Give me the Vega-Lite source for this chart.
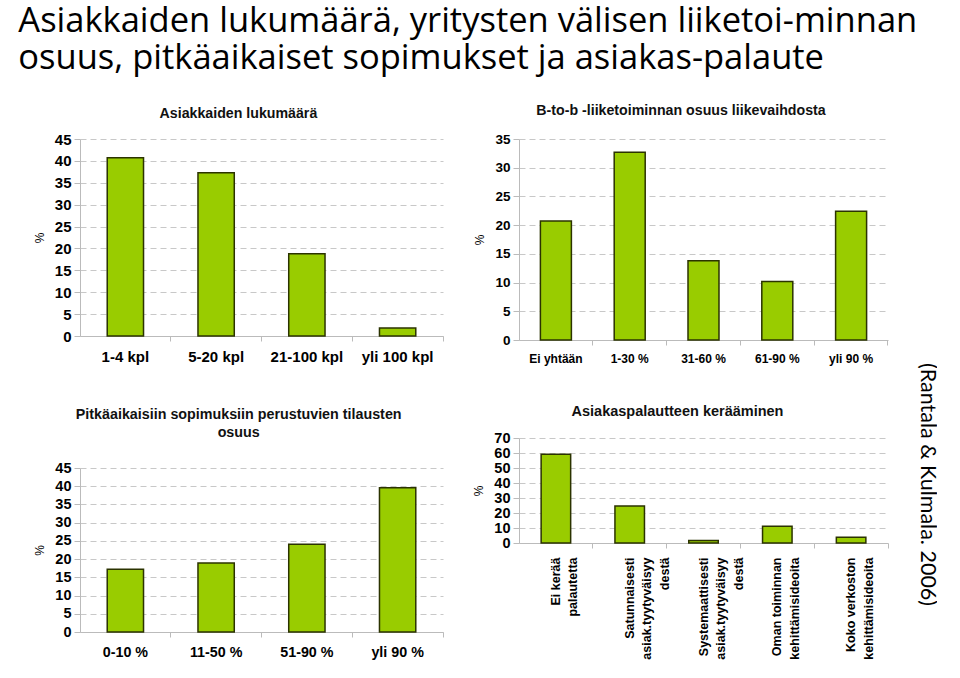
{
  "$schema": "https://vega.github.io/schema/vega-lite/v6.json",
  "padding": {"left": 18, "top": 4, "right": 0, "bottom": 0},
  "background": "white",
  "title": {
    "text": ["Asiakkaiden lukumäärä, yritysten välisen liiketoi-minnan", "osuus, pitkäaikaiset sopimukset ja asiakas-palaute"],
    "anchor": "start",
    "font": "Open Sans",
    "fontSize": 34.5,
    "fontWeight": "normal",
    "color": "#000000",
    "lineHeight": 37,
    "offset": 27,
    "dx": -15
  },
  "config": {
    "view": {"stroke": null},
    "title": {"font": "Liberation Sans", "fontWeight": "bold", "fontSize": 14.2, "color": "#111111", "anchor": "middle", "frame": "bounds"},
    "axis": {
      "labelFont": "Liberation Sans",
      "labelFontWeight": "bold",
      "labelColor": "#000000",
      "titleFont": "Liberation Sans",
      "titleFontWeight": "normal",
      "titleFontSize": 12,
      "titleColor": "#000000",
      "domainColor": "#bbbbbb",
      "tickColor": "#bbbbbb",
      "gridColor": "#c8c8c8",
      "gridDash": [6, 4]
    },
    "axisX": {"grid": false, "ticks": true, "tickSize": 5, "labelPadding": 8, "title": null},
    "axisY": {"grid": true, "tickSize": 6, "labelPadding": 3, "titlePadding": 8}
  },
  "hconcat": [
    {
      "spacing": 43,
      "vconcat": [
        {
          "width": 363,
          "height": 197,
          "title": {"text": "Asiakkaiden lukumäärä", "offset": 11},
          "data": {"values": [
            {"luokka": "1-4 kpl", "osuus": 40.7},
            {"luokka": "5-20 kpl", "osuus": 37.3},
            {"luokka": "21-100 kpl", "osuus": 18.8},
            {"luokka": "yli 100 kpl", "osuus": 1.8}
          ]},
          "mark": {"type": "bar", "color": "#99CC00", "stroke": "#2b3300", "strokeWidth": 1.5},
          "encoding": {
            "x": {"field": "luokka", "type": "nominal", "sort": null, "scale": {"paddingInner": 0.6, "paddingOuter": 0.3}, "axis": {"labelAngle": 0, "labelFontSize": 15, "bandPosition": 1.75}},
            "y": {"field": "osuus", "type": "quantitative", "scale": {"domain": [0, 45]}, "axis": {"title": "%", "values": [0, 5, 10, 15, 20, 25, 30, 35, 40, 45], "labelFontSize": 15}}
          }
        },
        {
          "width": 363,
          "height": 164,
          "title": {"text": ["Pitkäaikaisiin sopimuksiin perustuvien tilausten", "osuus"], "fontSize": 14.3, "lineHeight": 18, "offset": 20},
          "data": {"values": [
            {"luokka": "0-10 %", "osuus": 17.2},
            {"luokka": "11-50 %", "osuus": 18.9},
            {"luokka": "51-90 %", "osuus": 24.1},
            {"luokka": "yli 90 %", "osuus": 39.6}
          ]},
          "mark": {"type": "bar", "color": "#99CC00", "stroke": "#2b3300", "strokeWidth": 1.5},
          "encoding": {
            "x": {"field": "luokka", "type": "nominal", "sort": null, "scale": {"paddingInner": 0.6, "paddingOuter": 0.3}, "axis": {"labelAngle": 0, "labelFontSize": 14.3, "bandPosition": 1.75}},
            "y": {"field": "osuus", "type": "quantitative", "scale": {"domain": [0, 45]}, "axis": {"title": "%", "values": [0, 5, 10, 15, 20, 25, 30, 35, 40, 45], "labelFontSize": 14.5}}
          }
        }
      ]
    },
    {
      "spacing": -2,
      "vconcat": [
        {
          "width": 369,
          "height": 201,
          "title": {"text": "B-to-b -liiketoiminnan osuus liikevaihdosta", "offset": 14},
          "data": {"values": [
            {"luokka": "Ei yhtään", "osuus": 20.7},
            {"luokka": "1-30 %", "osuus": 32.7},
            {"luokka": "31-60 %", "osuus": 13.8},
            {"luokka": "61-90 %", "osuus": 10.2},
            {"luokka": "yli 90 %", "osuus": 22.4}
          ]},
          "mark": {"type": "bar", "color": "#99CC00", "stroke": "#2b3300", "strokeWidth": 1.5},
          "encoding": {
            "x": {"field": "luokka", "type": "nominal", "sort": null, "scale": {"paddingInner": 0.58, "paddingOuter": 0.29}, "axis": {"labelAngle": 0, "labelFontSize": 12, "bandPosition": 1.69}},
            "y": {"field": "osuus", "type": "quantitative", "scale": {"domain": [0, 35]}, "axis": {"title": "%", "values": [0, 5, 10, 15, 20, 25, 30, 35], "labelFontSize": 13.5}}
          }
        },
        {
          "width": 369,
          "height": 105,
          "data": {"values": [
            {"luokka": "Ei kerää\npalautetta", "osuus": 59.1},
            {"luokka": "Satunnaisesti\nasiak.tyytyväisyy\ndestä", "osuus": 24.7},
            {"luokka": "Systemaattisesti\nasiak.tyytyväisyy\ndestä", "osuus": 1.6},
            {"luokka": "Oman toiminnan\nkehittämisideoita", "osuus": 11.1},
            {"luokka": "Koko verkoston\nkehittämisideoita", "osuus": 3.8}
          ]},
          "layer": [
            {
              "mark": {"type": "bar", "color": "#99CC00", "stroke": "#2b3300", "strokeWidth": 1.5},
              "encoding": {
                "x": {"field": "luokka", "type": "nominal", "sort": null, "scale": {"paddingInner": 0.6, "paddingOuter": 0.3}, "axis": {"labelAngle": -90, "labelFontSize": 12.5, "labelLineHeight": 17.5, "labelLimit": 300, "labelPadding": 9, "labelExpr": "split(datum.label, '\\n')", "bandPosition": 1.75}},
                "y": {"field": "osuus", "type": "quantitative", "scale": {"domain": [0, 70]}, "axis": {"title": "%", "values": [0, 10, 20, 30, 40, 50, 60, 70], "labelFontSize": 14.5}}
              }
            },
            {
              "mark": {"type": "tick", "opacity": 0},
              "encoding": {
                "x": {"field": "luokka", "type": "nominal", "sort": null, "axis": {"orient": "top", "title": "Asiakaspalautteen kerääminen", "labels": false, "ticks": false, "domain": false, "grid": false, "titleFont": "Liberation Sans", "titleFontWeight": "bold", "titleFontSize": 14.5, "titleColor": "#111111", "titlePadding": 20, "titleX": 158}},
                "y": {"field": "osuus", "type": "quantitative", "axis": {"orient": "right", "title": "(Rantala & Kulmala. 2006)", "labels": false, "ticks": false, "domain": false, "grid": false, "titleFont": "Lato", "titleFontSize": 21.5, "titleFontWeight": "normal", "titleColor": "#000000", "titlePadding": 27, "titleAngle": 90, "titleY": 46}}
              }
            }
          ],
          "resolve": {"scale": {"x": "independent", "y": "independent"}}
        }
      ]
    }
  ],
  "spacing": 28
}
